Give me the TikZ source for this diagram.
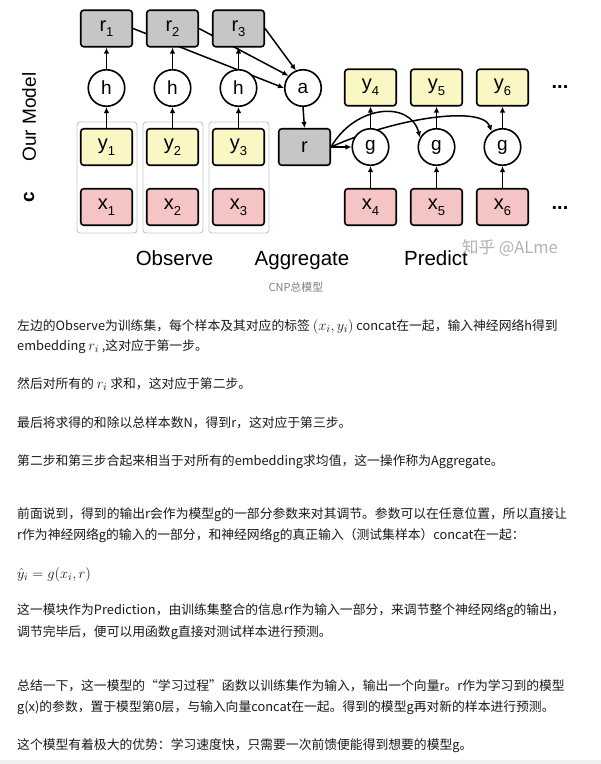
\documentclass[tikz,border=0pt]{standalone}
\usepackage{fontspec}
\setmainfont{Noto Sans CJK SC}
\newfontfamily\hv{Liberation Sans}
\usetikzlibrary{arrows.meta,backgrounds}
\definecolor{boxgray}{HTML}{C6C6C6}
\definecolor{boxyellow}{HTML}{FAF7C4}
\definecolor{boxpink}{HTML}{F5C4C4}
\definecolor{txt}{HTML}{1A1A1A}
\newcommand\lbl[2]{#1\raisebox{-0.28em}{\fontsize{13}{13}\selectfont #2}}
\newcommand\mymath[1]{{\fontsize{15}{16}\selectfont$#1$}}
\tikzset{
  box/.style={draw=black, line width=1.6pt, rounded corners=3pt, minimum width=51.5pt, minimum height=36.5pt, inner sep=0pt, font=\hv\fontsize{20}{20}\selectfont},
  rbox/.style={box, fill=boxgray},
  ybox/.style={box, fill=boxyellow},
  xbox/.style={box, fill=boxpink},
  circ/.style={circle, draw=black, line width=1.6pt, fill=white, minimum size=36.5pt, inner sep=0pt, font=\hv\fontsize{19}{19}\selectfont},
  arr/.style={-{Latex[length=6pt,width=5.5pt]}, line width=1.5pt},
  frm/.style={draw=black!22, line width=0.9pt, rounded corners=3pt},
  phase/.style={anchor=base, inner sep=0pt, font=\hv\fontsize{20.5}{20.5}\selectfont},
  para/.style={anchor=base west, inner sep=0pt, text=txt, font=\fontsize{12.8}{16}\selectfont},
}
\begin{document}
\begin{tikzpicture}[x=1pt,y=-1pt]
\useasboundingbox (0,0) rectangle (601,764);

% observe column nodes
\foreach \i/\xx in {1/106.5,2/172.5,3/238.5}{
  \node[rbox] (r\i) at (\xx,28.5) {\lbl{r}{\i}};
  \node[circ] (h\i) at (\xx,88) {h};
  \node[ybox] (y\i) at (\xx,147) {\lbl{y}{\i}};
  \node[xbox] (x\i) at (\xx,207) {\lbl{x}{\i}};
}
% aggregate
\node[circ] (a) at (303,88) {a};
\node[rbox] (r) at (304.5,147) {r};
% predict
\foreach \i/\xx in {4/370.5,5/436.5,6/502.5}{
  \node[ybox] (y\i) at (\xx,87.5) {\lbl{y}{\i}};
  \node[circ] (g\i) at (\xx,147) {g};
  \node[xbox] (x\i) at (\xx,207) {\lbl{x}{\i}};
}
\node[font=\hv\bfseries\fontsize{20}{20}\selectfont] (dots1) at (560,87) {...};
\node[font=\hv\bfseries\fontsize{20}{20}\selectfont] (dots2) at (560,208) {...};

\begin{scope}[on background layer]
  \fill[white] (0,0) rectangle (601,764);
  \fill[black!6] (0,760) rectangle (601,764);
  \foreach \dx in {0,66,132}{
    \draw[frm] (77+\dx,122) rectangle (137+\dx,233);
  }
  \draw[arr] (r1.east) -- (a.180);
  \draw[arr] (r2.east) -- (a.140);
  \draw[arr] (r3.east) -- (a.112);
  \draw[arr] (r.east) .. controls (395,118) and (482,105) .. (g6.125);
\end{scope}

\foreach \i in {1,2,3}{
  \draw[arr] (h\i.north) -- (r\i.south);
  \draw[arr] (y\i.north) -- (h\i.south);
}
\draw[arr] (a.south) -- (r.north);
\foreach \i in {4,5,6}{
  \draw[arr] (g\i.north) -- (y\i.south);
  \draw[arr] (x\i.north) -- (g\i.south);
}
\draw[arr] (r.east) -- (g4.west);
\draw[arr] (r.east) .. controls (355,105) and (410,100) .. (g5.150);

% labels
\node[rotate=90, font=\hv\fontsize{19}{19}\selectfont] (ourmodel) at (29,117) {Our Model};
\node[rotate=90, font=\hv\bfseries\fontsize{19}{19}\selectfont] (clabel) at (29,197) {c};
\node[phase] (obs) at (174.5,265.5) {Observe};
\node[phase] (agg) at (302,265.5) {Aggregate};
\node[phase] (pred) at (436,265.5) {Predict};
\node[text=black!30, font=\fontsize{16.5}{16.5}\selectfont] (wm) at (510,248) {知乎 @ALme};
\node[text=black!50, font=\fontsize{11}{11}\selectfont] (cap) at (296,287) {CNP总模型};

% paragraphs
\node[para] (p1) at (17,330) {左边的Observe为训练集，每个样本及其对应的标签 \mymath{(x_i,y_i)} concat在一起，输入神经网络h得到};
\node[para] (p2) at (17,350) {embedding \mymath{r_i} ,这对应于第一步。};
\node[para] (p3) at (17,388) {然后对所有的 \mymath{r_i} 求和，这对应于第二步。};
\node[para] (p4) at (17,427) {最后将求得的和除以总样本数N，得到r，这对应于第三步。};
\node[para] (p5) at (17,465) {第二步和第三步合起来相当于对所有的embedding求均值，这一操作称为Aggregate。};
\node[para] (p6) at (17,518) {前面说到，得到的输出r会作为模型g的一部分参数来对其调节。参数可以在任意位置，所以直接让};
\node[para] (p7) at (17,539) {r作为神经网络g的输入的一部分，和神经网络g的真正输入（测试集样本）concat在一起：};
\node[para] (p8) at (17,578) {\mymath{\hat{y}_i=g(x_i,r)}};
\node[para] (p9) at (17,614) {这一模块作为Prediction，由训练集整合的信息r作为输入一部分，来调节整个神经网络g的输出，};
\node[para] (p10) at (17,636) {调节完毕后，便可以用函数g直接对测试样本进行预测。};
\node[para] (p11) at (17,690) {总结一下，这一模型的“学习过程”函数以训练集作为输入，输出一个向量r。r作为学习到的模型};
\node[para] (p12) at (17,711) {g(x)的参数，置于模型第0层，与输入向量concat在一起。得到的模型g再对新的样本进行预测。};
\node[para] (p13) at (17,749) {这个模型有着极大的优势：学习速度快，只需要一次前馈便能得到想要的模型g。};
\end{tikzpicture}
\end{document}
